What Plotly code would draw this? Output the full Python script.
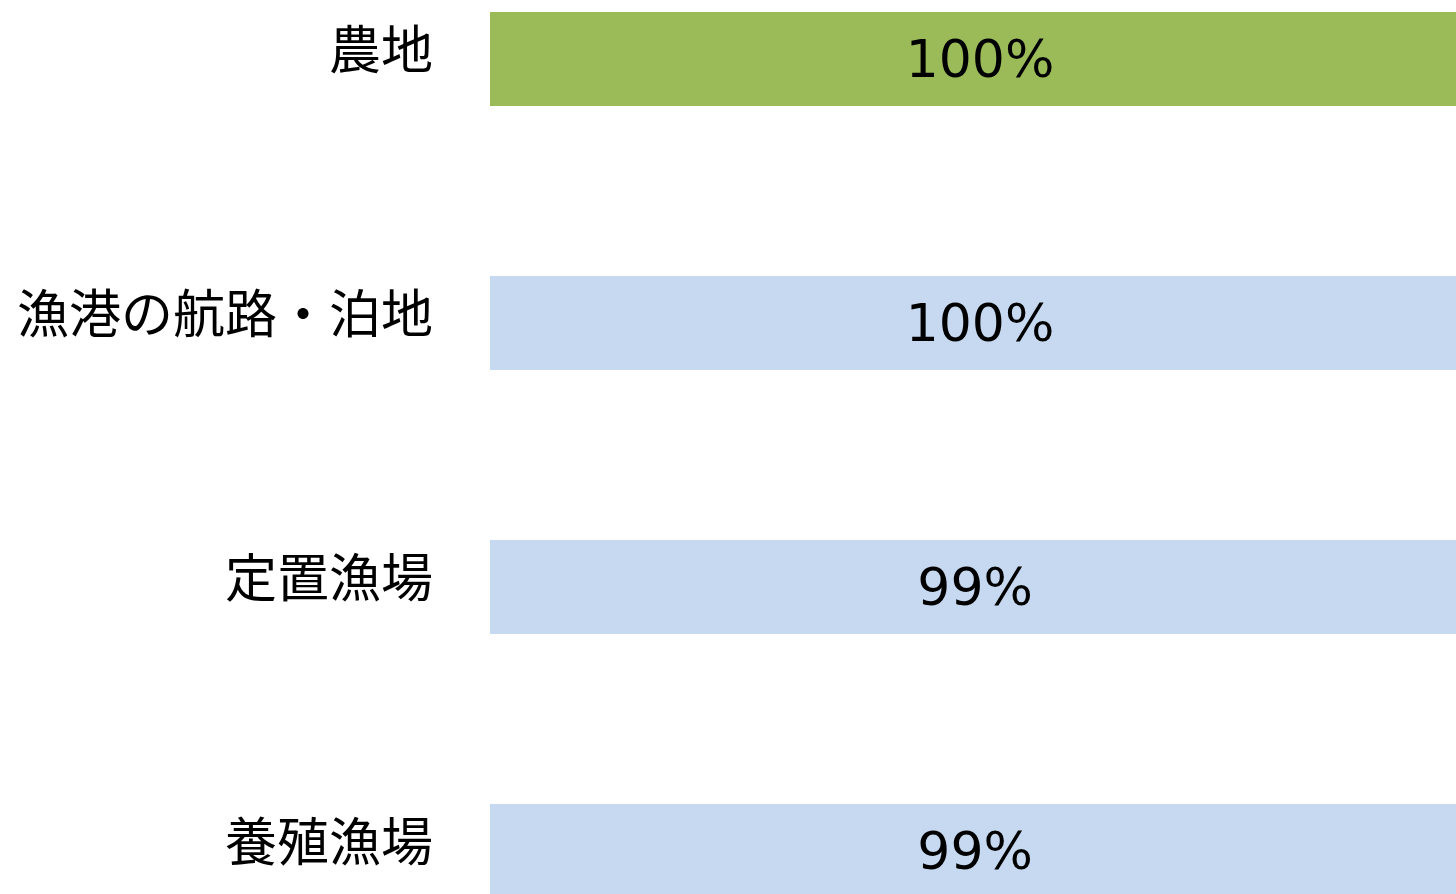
import plotly.graph_objects as go

categories = ["農地", "漁港の航路・泊地", "定置漁場", "養殖漁場"]
values = [100, 100, 99, 99]
labels = ["100%", "100%", "99%", "99%"]
colors = ["#9BBB59", "#C6D9F0", "#C6D9F0", "#C6D9F0"]

fig = go.Figure(go.Bar(
    x=values,
    y=categories,
    orientation="h",
    marker=dict(color=colors, line=dict(width=0)),
    width=0.356,
    text=labels,
    textposition="inside",
    insidetextanchor="middle",
    textangle=0,
    constraintext="none",
    textfont=dict(family="DejaVu Sans", size=52, color="black"),
))

fig.update_layout(
    width=1456,
    height=894,
    margin=dict(l=490, r=0, t=0, b=0),
    paper_bgcolor="white",
    plot_bgcolor="white",
    showlegend=False,
    xaxis=dict(range=[0, 98.57], visible=False, showgrid=False, zeroline=False),
    yaxis=dict(
        categoryorder="array",
        categoryarray=categories,
        range=[3.163, -0.2235],
        showgrid=False,
        zeroline=False,
        showline=False,
        ticks="",
        ticklabelstandoff=56,
        ticklabelshift=8,
        tickfont=dict(family="Noto Sans CJK JP", size=52, color="black"),
    ),
)

fig.write_html(
    "out.html",
    config={"displayModeBar": False},
    post_script="document.body.style.margin='0';document.body.style.overflow='hidden';",
)
